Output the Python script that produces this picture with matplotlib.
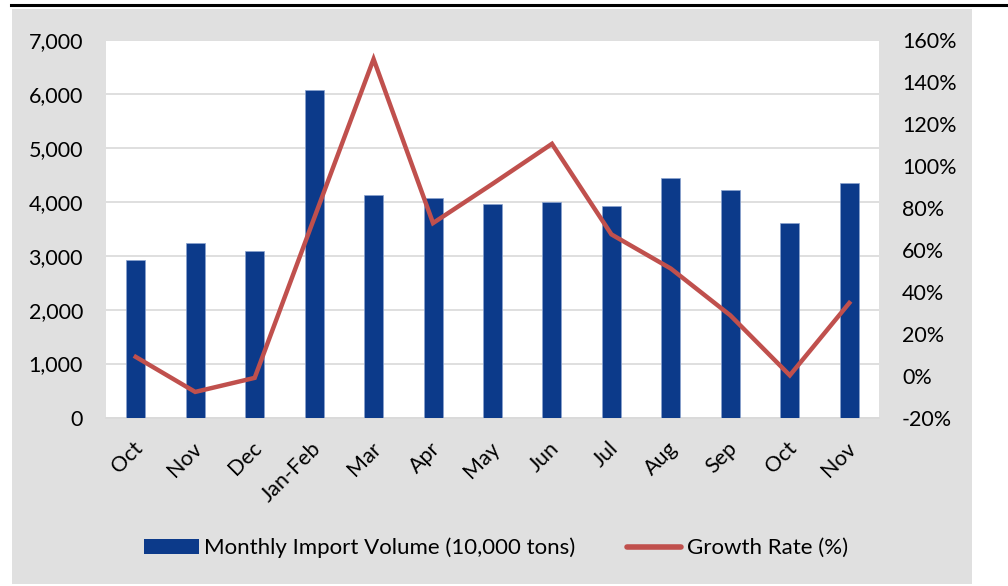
import matplotlib.pyplot as plt
import matplotlib.transforms as mtransforms
from matplotlib.patches import Rectangle
from matplotlib.lines import Line2D
from matplotlib.ticker import FuncFormatter, MultipleLocator

plt.rcParams['font.family'] = ['Lato', 'DejaVu Sans']

months = ['Oct', 'Nov', 'Dec', 'Jan-Feb', 'Mar', 'Apr', 'May', 'Jun',
          'Jul', 'Aug', 'Sep', 'Oct', 'Nov']
import_volume = [2913, 3228, 3085, 6067, 4117, 4067, 3956, 3987,
                 3926, 4432, 4210, 3598, 4344]
growth_rate = [8.9, -7.8, -1.1, 75, 150.9, 72.7, 91.4, 110.5,
               67.3, 51.0, 28.7, 0.1, 34.6]

BAR_COLOR = '#0c3a8a'
LINE_COLOR = '#c0504d'
BG_GRAY = '#e0e0e0'
FS = 15.5

W, H = 1008, 586
fig = plt.figure(figsize=(W / 100, H / 100), dpi=100)

# gray chart area and the black rule above it
fig.patches.append(Rectangle((12 / W, 1 - 584 / H), 960 / W, 575 / H,
                             transform=fig.transFigure, facecolor=BG_GRAY,
                             edgecolor='none', zorder=-10))
fig.lines.append(Line2D([11 / W, 1], [1 - 5 / H, 1 - 5 / H],
                        transform=fig.transFigure, color='black', lw=2.2))

left, right, top, bottom = 106, 879, 40, 417.5
ax = fig.add_axes([left / W, 1 - bottom / H, (right - left) / W, (bottom - top) / H])
ax.set_facecolor('white')

x = list(range(len(months)))
bars = ax.bar(x, import_volume, width=0.32, color=BAR_COLOR,
              edgecolor='#8aa2cf', linewidth=0.5, zorder=3,
              label='Monthly Import Volume (10,000 tons)')
ax.set_xlim(-0.5, len(months) - 0.5)
ax.set_ylim(0, 7000)
ax.yaxis.set_major_locator(MultipleLocator(1000))
ax.yaxis.set_major_formatter(FuncFormatter(lambda v, p: f'{v:,.0f}'))
ax.grid(axis='y', color='#d9d9d9', lw=1.2, zorder=0)
ax.set_axisbelow(True)
for s in ['top', 'left', 'right']:
    ax.spines[s].set_visible(False)
ax.spines['bottom'].set_color('#d9d9d9')
ax.spines['bottom'].set_linewidth(1.2)
ax.tick_params(axis='both', length=0, labelsize=FS)
ax.tick_params(axis='y', pad=16.5)
ax.set_xticks(x)
ax.set_xticklabels(months, rotation=45, ha='right', va='center',
                   rotation_mode='anchor')
ax.tick_params(axis='x', pad=20)
shift = mtransforms.ScaledTranslation(0.04, 0, fig.dpi_scale_trans)
for lab in ax.get_xticklabels():
    lab.set_transform(lab.get_transform() + shift)

ax2 = ax.twinx()
line, = ax2.plot(x, growth_rate, color=LINE_COLOR, lw=3.2, zorder=4,
                 solid_joinstyle='miter', label='Growth Rate (%)')
ax2.set_ylim(-20, 160)
ax2.yaxis.set_major_locator(MultipleLocator(20))
ax2.yaxis.set_major_formatter(FuncFormatter(lambda v, p: f'{v:.0f}%'))
for s in ax2.spines.values():
    s.set_visible(False)
ax2.tick_params(axis='y', length=0, labelsize=FS, pad=16.5)

handles = [Rectangle((0, 0), 1, 1, facecolor=BAR_COLOR, edgecolor='none'),
           Line2D([], [], color=LINE_COLOR, lw=4, solid_capstyle='round')]
fig.legend(handles, [bars.get_label(), line.get_label()],
           loc='center', bbox_to_anchor=(496 / W, 1 - 548 / H), ncol=2,
           frameon=False, fontsize=16, handlelength=2.45, handleheight=0.65,
           handletextpad=0.25, columnspacing=2.3)

fig.savefig('out.png', dpi=100)
